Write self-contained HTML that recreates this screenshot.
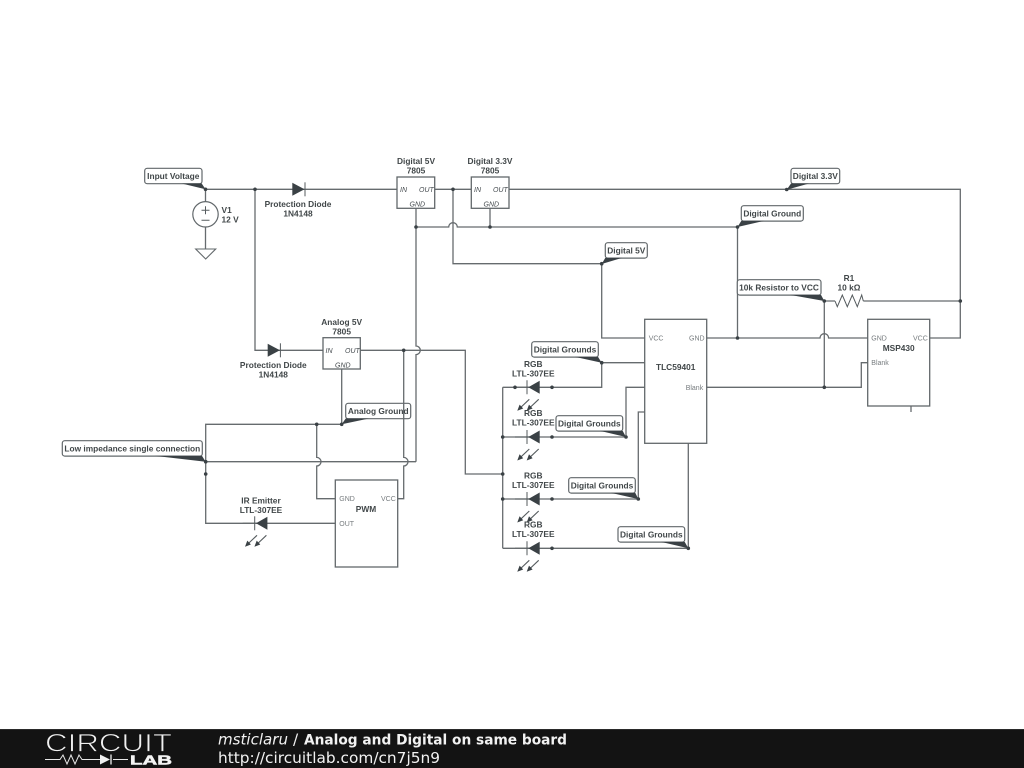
<!DOCTYPE html>
<html><head><meta charset="utf-8"><title>Analog and Digital on same board</title>
<style>
html,body{margin:0;padding:0;background:#fff;width:1024px;height:768px;overflow:hidden}
svg{display:block;position:absolute;left:0;top:0}
.w{fill:none;stroke:#666b6e;stroke-width:1.3}
.b{fill:#fff;stroke:#62686b;stroke-width:1.3}
.t{font:bold 8.35px "Liberation Sans",sans-serif;fill:#414749;text-anchor:middle}
.p{font:7px "Liberation Sans",sans-serif;fill:#777c7f}
.i{font:italic 7px "Liberation Sans",sans-serif;fill:#454b4f}
.tag{fill:#fff;stroke:#62686b;stroke-width:1.2}
.tail{fill:#3a4145}
.n{fill:#3a4145}
</style></head><body>
<svg width="1024" height="768" viewBox="0 0 1024 768" xmlns="http://www.w3.org/2000/svg">
<defs>
<g id="led">
<path d="M-12 0H12" class="w"/>
<path d="M1.3 0L12.7 -6.5V6.5Z" fill="#3a4145"/>
<path d="M0 -7V7" stroke="#555b5e" stroke-width="1"/>
<g stroke="#555b5e" stroke-width="1.1" fill="#3a4145">
<path d="M2.3 12L-7 20.8" fill="none"/><path d="M-9.7 23.5L-7.4 17.3L-3.8 21.2Z" stroke="none"/>
<path d="M11.7 12L2.4 20.8" fill="none"/><path d="M-.3 23.5L2 17.3L5.6 21.2Z" stroke="none"/>
</g>
</g>
<g id="dio">
<path d="M0 -6.5L12.2 0L0 6.5Z" fill="#3a4145"/>
<path d="M12.7 -7V7" stroke="#555b5e" stroke-width="1"/>
</g>
</defs>

<g style="filter:blur(.35px)">
<!-- wires -->
<path class="w" d="M205.5 189.3H397M434.7 189.3H471.3M509 189.3H960.3V338H929.7"/>
<path class="w" d="M205.5 189.3V201.5M205.5 227V249"/>
<path class="w" d="M255 189.3V350.3H323"/>
<path class="w" d="M416 208.3V346A4.3 4.3 0 0 1 416 354.6V461.7"/>
<path class="w" d="M416 227H448.7A4.3 4.3 0 0 1 457.3 227H737.5"/>
<path class="w" d="M490 208.3V227"/>
<path class="w" d="M453 189.3V263.7H601.7V338H644.7"/>
<path class="w" d="M706.7 338H820A4.3 4.3 0 0 1 828.6 338H867.7"/>
<path class="w" d="M737.5 227V338"/>
<path class="w" d="M824.3 301V387.3M824.3 301H835M863.3 301H960.3"/>
<path class="w" d="M706.7 387.3H861.3V362.7H867.7"/>
<path class="w" d="M911 406V412"/>
<path class="w" d="M360.3 350.3H465.3V474H502.7"/>
<path class="w" d="M341.7 369V424.3H205.7V523.3H335.3"/>
<path class="w" d="M205.7 461.7H416"/>
<path class="w" d="M316.7 424.3V457.4A4.3 4.3 0 0 1 316.7 466V498.7H335.3"/>
<path class="w" d="M502.7 387.3V548.3"/>
<path class="w" d="M502.7 387.3H601.7V362.7H644.7"/>
<path class="w" d="M502.7 437H626V387.3H644.7"/>
<path class="w" d="M502.7 499H638.3V412H644.7"/>
<path class="w" d="M502.7 548.3H688.3V443.3"/>

<!-- resistor -->
<path d="M835 301L837.3 306.7L842.3 295L847.3 306.7L852.3 295L857.3 306.7L861.7 295L863.3 301" fill="none" stroke="#555b5e" stroke-width="1"/>

<!-- source -->
<circle cx="205.5" cy="214.3" r="12.7" fill="#fff" stroke="#62686b" stroke-width="1.2"/>
<path d="M201.5 210.3H209.5M205.5 206.3V214.3M201.5 220.3H209.5" stroke="#555b5e" stroke-width="1" fill="none"/>
<path d="M195.7 249H215.7L205.7 259Z" fill="#fff" stroke="#62686b" stroke-width="1.1"/>

<!-- diodes -->
<use href="#dio" x="292.3" y="189.3"/>
<use href="#dio" x="267.7" y="350.3"/>

<!-- LEDs -->
<use href="#led" x="527" y="387.3"/>
<use href="#led" x="527" y="437"/>
<use href="#led" x="527" y="499"/>
<use href="#led" x="527" y="548.3"/>
<use href="#led" x="254.7" y="523.3"/>

<!-- boxes -->
<rect class="b" x="397" y="177" width="37.7" height="31.3"/>
<rect class="b" x="471.3" y="177" width="37.7" height="31.3"/>
<rect class="b" x="323" y="337.7" width="37.3" height="31.3"/>
<rect class="b" x="335.3" y="480" width="62.4" height="87"/>
<rect class="b" x="644.7" y="319.3" width="62" height="124"/>
<rect class="b" x="867.7" y="319.3" width="62" height="86.7"/>

<!-- tags -->
<rect class="tag" x="144.7" y="168.3" width="57.3" height="15.4" rx="2.5"/>
<path class="tail" d="M181.7 183.5H201.7L205.5 189.3Z"/>
<rect class="tag" x="791" y="168.3" width="48.7" height="15.4" rx="2.5"/>
<path class="tail" d="M791 183.5H809L786.7 189.7Z"/>
<rect class="tag" x="741.3" y="205.7" width="62" height="15.4" rx="2.5"/>
<path class="tail" d="M741.3 220.9H764L737.5 227Z"/>
<rect class="tag" x="605.3" y="242.7" width="42" height="15.4" rx="2.5"/>
<path class="tail" d="M605.3 257.9H622L601.7 264Z"/>
<rect class="tag" x="737.3" y="279.7" width="83.7" height="15.4" rx="2.5"/>
<path class="tail" d="M790 294.9H821L824.3 301Z"/>
<rect class="tag" x="345.7" y="403.3" width="65" height="15.4" rx="2.5"/>
<path class="tail" d="M345.7 418.5H369L341.7 424.3Z"/>
<rect class="tag" x="62.3" y="440.7" width="140" height="15.4" rx="2.5"/>
<path class="tail" d="M155 455.9H202L205.7 461.7Z"/>
<rect class="tag" x="531.7" y="341.7" width="66.6" height="15.4" rx="2.5"/>
<path class="tail" d="M575 356.9H598L601.7 362.7Z"/>
<rect class="tag" x="556" y="415.7" width="66.7" height="15.4" rx="2.5"/>
<path class="tail" d="M600 430.9H622.7L626 437Z"/>
<rect class="tag" x="568.7" y="477.7" width="66.6" height="15.4" rx="2.5"/>
<path class="tail" d="M611 492.9H635.3L638.3 499Z"/>
<rect class="tag" x="618" y="526.7" width="66.7" height="15.4" rx="2.5"/>
<path class="tail" d="M661 541.9H684.7L688.3 548.3Z"/>

<!-- wire passing over tag -->
<path class="w" d="M397.7 498.7H403.7V466A4.3 4.3 0 0 0 403.7 457.4V350.3"/>

<!-- nodes -->
<g class="n">
<circle cx="205.5" cy="189.3" r="1.8"/><circle cx="255" cy="189.3" r="1.8"/>
<circle cx="453" cy="189.3" r="1.8"/><circle cx="416" cy="227" r="1.8"/>
<circle cx="490" cy="227" r="1.8"/><circle cx="737.5" cy="227" r="1.8"/>
<circle cx="786.7" cy="189.5" r="1.8"/><circle cx="601.7" cy="263.7" r="1.8"/>
<circle cx="737.5" cy="338" r="1.8"/><circle cx="824.3" cy="301" r="1.8"/>
<circle cx="960.3" cy="301" r="1.8"/><circle cx="824.3" cy="387.3" r="1.8"/>
<circle cx="403.7" cy="350.3" r="1.8"/><circle cx="341.7" cy="424.3" r="1.8"/>
<circle cx="316.7" cy="424.3" r="1.8"/><circle cx="205.7" cy="461.7" r="1.8"/>
<circle cx="205.7" cy="474" r="1.8"/>
<circle cx="502.7" cy="437" r="1.8"/><circle cx="502.7" cy="474" r="1.8"/><circle cx="502.7" cy="499" r="1.8"/>
<circle cx="515" cy="387.3" r="1.8"/>
<circle cx="552" cy="387.3" r="1.8"/><circle cx="552" cy="437" r="1.8"/><circle cx="552" cy="499" r="1.8"/><circle cx="552" cy="548.3" r="1.8"/>
<circle cx="601.7" cy="362.7" r="1.8"/><circle cx="626" cy="437" r="1.8"/>
<circle cx="638.3" cy="499" r="1.8"/><circle cx="688.3" cy="548.3" r="1.8"/>
</g>

<!-- labels -->
<text class="t" x="173.3" y="179">Input Voltage</text>
<text class="t" x="815.3" y="179">Digital 3.3V</text>
<text class="t" x="772.3" y="216.4">Digital Ground</text>
<text class="t" x="626.3" y="253.4">Digital 5V</text>
<text class="t" x="779" y="290.4">10k Resistor to VCC</text>
<text class="t" x="378.2" y="414">Analog Ground</text>
<text class="t" x="132.3" y="451.4">Low impedance single connection</text>
<text class="t" x="565" y="352.4">Digital Grounds</text>
<text class="t" x="589.3" y="426.4">Digital Grounds</text>
<text class="t" x="602" y="488.4">Digital Grounds</text>
<text class="t" x="651.3" y="537.4">Digital Grounds</text>

<text class="t" x="416" y="164">Digital 5V</text><text class="t" x="416" y="173.4">7805</text>
<text class="t" x="490" y="164">Digital 3.3V</text><text class="t" x="490" y="173.4">7805</text>
<text class="t" x="341.7" y="325">Analog 5V</text><text class="t" x="341.7" y="334.4">7805</text>
<text class="t" x="298" y="207">Protection Diode</text><text class="t" x="298" y="216.4">1N4148</text>
<text class="t" x="273.3" y="368">Protection Diode</text><text class="t" x="273.3" y="377.4">1N4148</text>
<text class="t" x="221.5" y="213" style="text-anchor:start">V1</text><text class="t" x="221.5" y="222.4" style="text-anchor:start">12 V</text>
<text class="t" x="849" y="281">R1</text><text class="t" x="849" y="290.4">10 kΩ</text>
<text class="t" x="261" y="503.5">IR Emitter</text><text class="t" x="261" y="513">LTL-307EE</text>
<text class="t" x="533.3" y="367">RGB</text><text class="t" x="533.3" y="376.4">LTL-307EE</text>
<text class="t" x="533.3" y="416">RGB</text><text class="t" x="533.3" y="425.4">LTL-307EE</text>
<text class="t" x="533.3" y="478.5">RGB</text><text class="t" x="533.3" y="487.9">LTL-307EE</text>
<text class="t" x="533.3" y="527.5">RGB</text><text class="t" x="533.3" y="537">LTL-307EE</text>
<text class="t" x="366" y="512">PWM</text>
<text class="t" x="675.7" y="370">TLC59401</text>
<text class="t" x="898.7" y="351">MSP430</text>

<text class="i" x="400" y="192">IN</text><text class="i" x="419" y="192">OUT</text><text class="i" x="409.5" y="206.5">GND</text>
<text class="i" x="474" y="192">IN</text><text class="i" x="493" y="192">OUT</text><text class="i" x="483.5" y="206.5">GND</text>
<text class="i" x="325.5" y="353">IN</text><text class="i" x="345" y="353">OUT</text><text class="i" x="335" y="367.5">GND</text>

<text class="p" x="339.3" y="501">GND</text><text class="p" x="381" y="501">VCC</text><text class="p" x="339.3" y="526">OUT</text>
<text class="p" x="648.7" y="340.5">VCC</text><text class="p" x="689" y="340.5">GND</text><text class="p" x="685.7" y="390">Blank</text>
<text class="p" x="871.3" y="340.5">GND</text><text class="p" x="913" y="340.5">VCC</text><text class="p" x="871.3" y="365">Blank</text>
</g>

<!-- footer -->
<rect x="0" y="729" width="1024" height="39" fill="#131313"/>
<rect x="0" y="729" width="1024" height="1" fill="#2a2a2a"/>
<text x="45" y="751.5" font-family="'Liberation Sans',sans-serif" font-size="25" fill="#f0f0f0" stroke="#131313" stroke-width=".8" textLength="127" lengthAdjust="spacingAndGlyphs">CIRCUIT</text>
<path d="M45 759.5H60L63 755L67 764L71 755L75 764L79 755L82 759.5H100M113 759.5H128" fill="none" stroke="#e8e8e8" stroke-width="1"/>
<path d="M100 754.5L110 759.5L100 764.5Z" fill="#f0f0f0"/><path d="M111 754.5V764.5" stroke="#f0f0f0" stroke-width="1.3"/>
<text x="130" y="764.7" font-family="'Liberation Sans',sans-serif" font-weight="bold" font-size="13" fill="#f4f4f4" stroke="#f4f4f4" stroke-width=".5" textLength="42" lengthAdjust="spacingAndGlyphs">LAB</text>
<text x="218" y="744.5" font-family="'DejaVu Sans',sans-serif" font-size="15.3" font-style="italic" fill="#f2f2f2" textLength="70" lengthAdjust="spacingAndGlyphs">msticlaru</text>
<text x="293" y="744.5" font-family="'DejaVu Sans',sans-serif" font-size="15.3" fill="#f2f2f2">/</text>
<text x="304" y="744.5" font-family="'DejaVu Sans',sans-serif" font-size="14.6" font-weight="bold" fill="#f2f2f2" textLength="263" lengthAdjust="spacingAndGlyphs">Analog and Digital on same board</text>
<text x="218" y="763" font-family="'DejaVu Sans',sans-serif" font-size="15.3" fill="#f2f2f2" textLength="222" lengthAdjust="spacingAndGlyphs">http://circuitlab.com/cn7j5n9</text>
</svg>
</body></html>
